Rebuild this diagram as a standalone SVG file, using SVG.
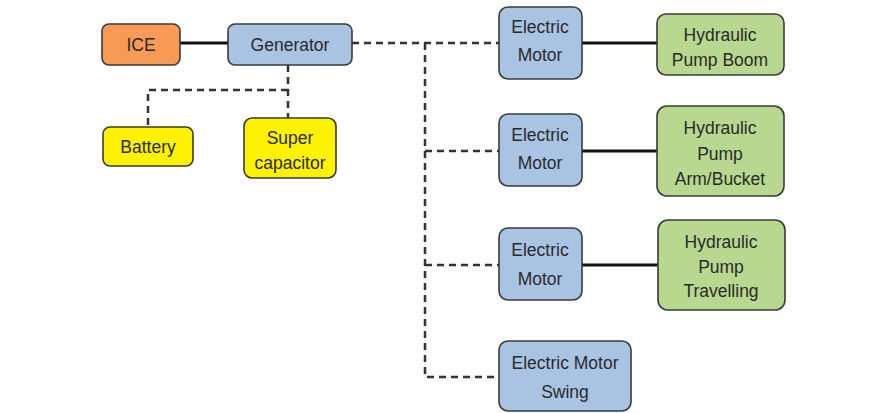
<svg xmlns="http://www.w3.org/2000/svg" width="869" height="413" viewBox="0 0 869 413">
<style>
.box{stroke:#3a3a3a;stroke-width:1.6}
.orange{fill:#F79A55}
.blue{fill:#A9C4E2}
.yellow{fill:#FFF200}
.green{fill:#B9D88F}
.t{font-family:"Liberation Sans",Arial,sans-serif;font-size:17.5px;fill:#2a2a2a;text-anchor:middle}
.solid{stroke:#111;stroke-width:3;fill:none}
.dash{stroke:#333;stroke-width:2.5;fill:none;stroke-dasharray:7 5}
</style>
<rect width="869" height="413" fill="#ffffff"/>
<g id="connectors">
<line class="solid" x1="180" y1="43" x2="228" y2="43"/>
<line class="solid" x1="582" y1="43" x2="657" y2="43"/>
<line class="solid" x1="582" y1="151" x2="657" y2="151"/>
<line class="solid" x1="582" y1="265" x2="658" y2="265"/>
<path class="dash" d="M352 43 H499"/>
<path class="dash" d="M288 65 V118"/>
<path class="dash" d="M288 90 H148 V127"/>
<path class="dash" d="M425 43 V377 H499"/>
<path class="dash" d="M425 151 H499"/>
<path class="dash" d="M425 265 H499"/>
</g>
<g id="ice"><rect class="box orange" x="102" y="24" width="78" height="41" rx="7"/><text class="t" x="141" y="51">ICE</text></g>
<g id="generator"><rect class="box blue" x="228" y="24" width="124" height="41" rx="7"/><text class="t" x="290" y="51">Generator</text></g>
<g id="battery"><rect class="box yellow" x="103" y="127" width="90" height="39" rx="7"/><text class="t" x="148" y="153">Battery</text></g>
<g id="supercap"><rect class="box yellow" x="244" y="118" width="92" height="60" rx="8"/><text class="t" x="290" y="144">Super</text><text class="t" x="290" y="169">capacitor</text></g>
<g id="motor1"><rect class="box blue" x="499" y="7" width="83" height="72" rx="9"/><text class="t" x="540" y="33">Electric</text><text class="t" x="540" y="61">Motor</text></g>
<g id="motor2"><rect class="box blue" x="499" y="114" width="83" height="72" rx="9"/><text class="t" x="540" y="141">Electric</text><text class="t" x="540" y="169">Motor</text></g>
<g id="motor3"><rect class="box blue" x="499" y="228" width="83" height="72" rx="9"/><text class="t" x="540" y="256">Electric</text><text class="t" x="540" y="285">Motor</text></g>
<g id="motorswing"><rect class="box blue" x="499" y="341" width="132" height="70" rx="9"/><text class="t" x="565" y="369">Electric Motor</text><text class="t" x="565" y="398">Swing</text></g>
<g id="pumpboom"><rect class="box green" x="657" y="14" width="127" height="61" rx="9"/><text class="t" x="720" y="41">Hydraulic</text><text class="t" x="720" y="66">Pump Boom</text></g>
<g id="pumparm"><rect class="box green" x="657" y="106" width="127" height="90" rx="10"/><text class="t" x="720" y="134">Hydraulic</text><text class="t" x="720" y="160">Pump</text><text class="t" x="720" y="185">Arm/Bucket</text></g>
<g id="pumptravel"><rect class="box green" x="658" y="220" width="127" height="90" rx="10"/><text class="t" x="721" y="248">Hydraulic</text><text class="t" x="721" y="273">Pump</text><text class="t" x="721" y="297">Travelling</text></g>
</svg>
